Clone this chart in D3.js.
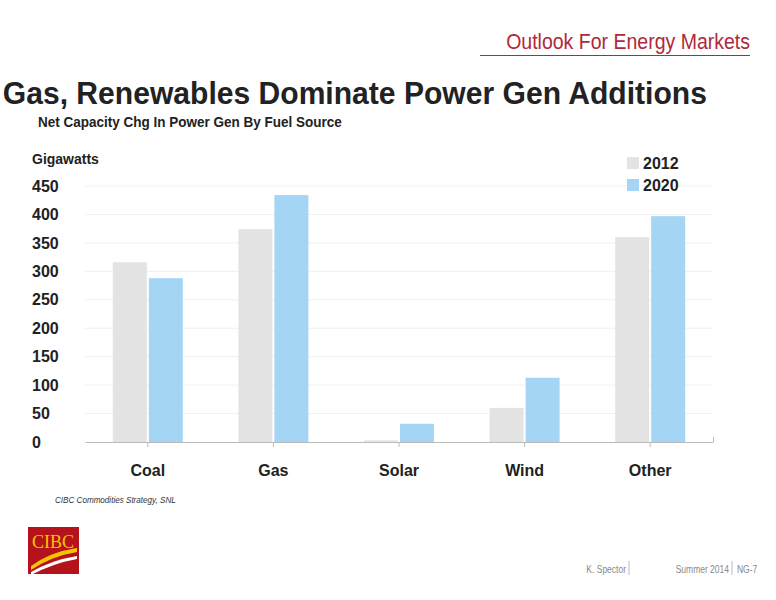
<!DOCTYPE html>
<html><head><meta charset="utf-8">
<script src="https://cdn.jsdelivr.net/npm/d3@7"></script>
<style>body{margin:0;background:#fff}text{font-family:"Liberation Sans",Arial,sans-serif}</style>
</head><body><svg id="c" width="776" height="600"></svg>
<script>
const categories = ["Coal","Gas","Solar","Wind","Other"];
const seriesNames = ["2012","2020"];
const values2012 = [316,374,3,60,360];
const values2020 = [288,434,32,113,397];
const yTicks = [0,50,100,150,200,250,300,350,400,450];
const colors = ["#e3e3e3","#a4d5f5"];

const svg = d3.select("#c");
const red = "#b0283a";
svg.append("text").attr("x",750).attr("y",49).attr("text-anchor","end").attr("font-size",22).attr("fill",red).attr("transform","translate(750,0) scale(0.887,1) translate(-750,0)").text("Outlook For Energy Markets");
svg.append("line").attr("x1",480).attr("x2",750).attr("y1",55.5).attr("y2",55.5).attr("stroke",red).attr("stroke-width",1);
svg.append("text").attr("x",3).attr("y",104).attr("font-size",32).attr("font-weight","bold").attr("fill","#222").attr("transform","scale(0.94,1)").text("Gas, Renewables Dominate Power Gen Additions");
svg.append("text").attr("x",38).attr("y",127).attr("font-size",14).attr("font-weight","bold").attr("fill","#222").attr("transform","translate(38,0) scale(0.965,1) translate(-38,0)").text("Net Capacity Chg In Power Gen By Fuel Source");

const x = d3.scaleBand().domain(categories).range([85,713]);
const y = d3.scaleLinear().domain([0,450]).range([442,186]);
const g = svg.append("g");
yTicks.forEach(t=>{ if(t>0) g.append("line").attr("x1",85).attr("x2",713).attr("y1",y(t)).attr("y2",y(t)).attr("stroke","#f0f0f0"); });
const bw = 35;
const data = [values2012, values2020];
data.forEach((vals,si)=>{
  g.selectAll(null).data(categories).enter().append("rect")
    .attr("x",d=>x(d)+x.bandwidth()/2 - bw + si*bw + (si?1:0)).attr("width",bw-1)
    .attr("y",(d,i)=>y(vals[i])).attr("height",(d,i)=>y(0)-y(vals[i])).attr("fill",colors[si]);
});
const ax = svg.append("g").attr("transform","translate(0,442)").call(d3.axisBottom(x).tickSize(5).tickSizeOuter(0));
ax.select(".domain").attr("stroke","#bbb");
ax.selectAll(".tick line").attr("stroke","#bbb");
ax.selectAll("text").attr("font-size",16).attr("font-weight","bold").attr("fill","#222").attr("dy","1.6em").attr("font-family","Liberation Sans");
svg.append("line").attr("x1",713.5).attr("x2",713.5).attr("y1",437).attr("y2",442).attr("stroke","#bbb");
const ay = svg.append("g").attr("transform","translate(78,0)").call(d3.axisLeft(y).tickValues(yTicks).tickSize(0));
ay.select(".domain").remove();
ay.selectAll("text").attr("font-size",16).attr("font-weight","bold").attr("fill","#222").attr("text-anchor","start").attr("x",-46).attr("font-family","Liberation Sans");
svg.append("text").attr("x",32).attr("y",164).attr("font-size",14).attr("font-weight","bold").attr("fill","#222").text("Gigawatts");
seriesNames.forEach((s,i)=>{
  svg.append("rect").attr("x",627).attr("y",157+i*22).attr("width",12).attr("height",12).attr("fill",colors[i]);
  svg.append("text").attr("x",643).attr("y",169+i*22).attr("font-size",16).attr("font-weight","bold").attr("fill","#222").text(s);
});
svg.append("text").attr("x",55).attr("y",503).attr("font-size",9).attr("font-style","italic").attr("fill","#333").attr("transform","translate(55,0) scale(0.9,1) translate(-55,0)").text("CIBC Commodities Strategy, SNL");
svg.append("rect").attr("x",28).attr("y",527).attr("width",51).attr("height",47).attr("fill","#b5121b");
svg.append("text").attr("x",53).attr("y",548).attr("text-anchor","middle").attr("font-size",18).style("font-family","'Liberation Serif',serif").attr("fill","#f5c400").text("CIBC");
svg.append("path").attr("d","M31 566 Q50 552 77 548 L77 552 Q52 556 31 570Z").attr("fill","#f5c400");
svg.append("path").attr("d","M31 572 Q52 560 77 556 L77 559 Q54 563 31 575Z").attr("fill","#fff");
const gray="#888";
const sq = x0 => `translate(${x0},0) scale(0.85,1) translate(${-x0},0)`;
svg.append("text").attr("x",626).attr("y",573).attr("text-anchor","end").attr("font-size",10).attr("fill",gray).attr("transform",sq(626)).text("K. Spector");
svg.append("line").attr("x1",629).attr("x2",629).attr("y1",561).attr("y2",575).attr("stroke","#bbb");
svg.append("text").attr("x",729).attr("y",573).attr("text-anchor","end").attr("font-size",10).attr("fill",gray).attr("transform",sq(729)).text("Summer 2014");
svg.append("line").attr("x1",732).attr("x2",732).attr("y1",561).attr("y2",575).attr("stroke","#bbb");
svg.append("text").attr("x",737).attr("y",573).attr("font-size",10).attr("fill",gray).attr("transform",sq(737)).text("NG-7");
</script></body></html>
